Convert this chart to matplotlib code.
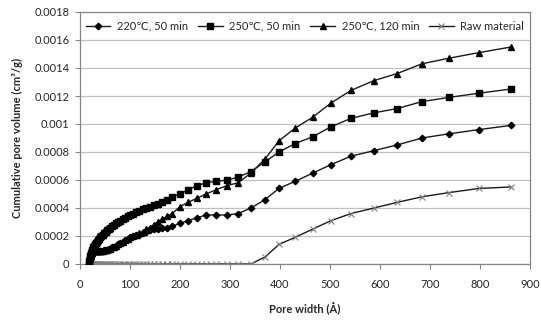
import matplotlib
matplotlib.use("Agg")
import matplotlib.pyplot as plt

plt.rcParams['font.family'] = ['Lato', 'DejaVu Sans']

pore_width = [17, 18, 19, 20, 21, 22, 23, 24, 25, 26,
              28, 30, 32, 34, 36, 38, 40, 42, 45, 48, 51, 54, 57, 60,
              64, 68, 72, 76, 80, 85, 90, 95, 100,
              106, 112, 118, 125, 132, 139, 147, 155, 164, 174,
              184, 200, 216, 234, 252, 272, 294, 316, 342,
              370, 398, 430, 466, 502, 542, 588, 634, 684, 738, 798, 862]

v220_50 = [0.0, 0.00002, 0.00004, 0.00005, 0.00006, 0.00007, 0.00008, 0.00008, 0.00009, 0.00009,
           0.00009, 0.00009, 0.00009, 0.00009, 0.00009, 0.00009, 0.00009, 0.00009, 0.00009, 0.0001, 0.0001, 0.0001, 0.00011, 0.00011,
           0.00012, 0.00012, 0.00013, 0.00014, 0.00015, 0.00016, 0.00017, 0.00018, 0.00019,
           0.0002, 0.00021, 0.00021, 0.00022, 0.00023, 0.00024, 0.00025, 0.00025, 0.00026, 0.00026,
           0.00027, 0.00029, 0.00031, 0.00033, 0.00035, 0.00035, 0.00035, 0.00036, 0.0004,
           0.00046, 0.00054, 0.00059, 0.00065, 0.00071, 0.00077, 0.00081, 0.00085, 0.0009, 0.00093, 0.00096, 0.00099]

v250_50 = [0.0, 0.00002, 0.00004, 0.00006, 0.00007, 0.00008, 0.00009, 0.0001, 0.00011, 0.00012,
           0.00013, 0.00014, 0.00015, 0.00016, 0.00017, 0.00018, 0.00019, 0.0002, 0.00021, 0.00022, 0.00023, 0.00024, 0.00025, 0.00026,
           0.00027, 0.00028, 0.00029, 0.0003, 0.00031, 0.00032, 0.00033, 0.00034, 0.00035,
           0.00036, 0.00037, 0.00038, 0.00039, 0.0004, 0.00041, 0.00042, 0.00043, 0.00044, 0.00046,
           0.00048, 0.0005, 0.00053, 0.00056, 0.00058, 0.00059, 0.0006, 0.00062, 0.00066,
           0.00073, 0.0008, 0.00086, 0.00091, 0.00098, 0.00104, 0.00108, 0.00111, 0.00116, 0.00119, 0.00122, 0.00125]

v250_120 = [0.0, 0.00002, 0.00004, 0.00005, 0.00006, 0.00007, 0.00008, 0.00008, 0.00009, 0.00009,
            0.00009, 0.00009, 0.00009, 0.00009, 0.00009, 0.00009, 0.00009, 0.00009, 0.00009, 0.0001, 0.0001, 0.0001, 0.00011, 0.00011,
            0.00012, 0.00012, 0.00013, 0.00014, 0.00015, 0.00016, 0.00017, 0.00018, 0.00019,
            0.0002, 0.00021, 0.00022, 0.00023, 0.00025, 0.00026, 0.00028, 0.0003, 0.00032, 0.00034,
            0.00036, 0.00041, 0.00044, 0.00047, 0.0005, 0.00053, 0.00056, 0.00058, 0.00065,
            0.00075, 0.00088, 0.00097, 0.00105, 0.00115, 0.00124, 0.00131, 0.00136, 0.00143, 0.00147, 0.00151, 0.00155]

v_raw = [0.0] * 0 + [0.0, 0.0, 0.0, 0.0, 0.0, 0.0, 0.0, 0.0, 0.0, 0.0,
         0.0, 0.0, 0.0, 0.0, 0.0, 0.0, 0.0, 0.0, 0.0, 0.0, 0.0, 0.0, 0.0, 0.0,
         0.0, 0.0, 0.0, 0.0, 0.0, 0.0, 0.0, 0.0, 0.0,
         0.0, 0.0, 0.0, 0.0, 0.0, 0.0, 0.0, 0.0, 0.0, 0.0,
         0.0, 0.0, 0.0, 0.0, 0.0, 0.0, 0.0, 0.0, 0.0,
         0.00005, 0.00014, 0.00019, 0.00025, 0.00031, 0.00036, 0.0004, 0.00044, 0.00048, 0.00051, 0.00054, 0.00055]

labels = ["220\u2103, 50 min", "250\u2103, 50 min", "250\u2103, 120 min", "Raw material"]

x_ticks = [0, 100, 200, 300, 400, 500, 600, 700, 800, 900]
y_ticks = [0, 0.0002, 0.0004, 0.0006, 0.0008, 0.001, 0.0012, 0.0014, 0.0016, 0.0018]
y_tick_labels = ["0", "0.0002", "0.0004", "0.0006", "0.0008", "0.001", "0.0012", "0.0014", "0.0016", "0.0018"]

fig = plt.figure(figsize=(5.41, 3.22), dpi=100)
ax = fig.add_axes([80/541, 1-264/322, 450/541, 252/322])

lc = '#1a1a1a'
ax.plot(pore_width, v220_50, color=lc, lw=1.0, marker='D', ms=3.3, mfc='black', mec='black', label=labels[0], zorder=3)
ax.plot(pore_width, v250_50, color=lc, lw=1.0, marker='s', ms=4.3, mfc='black', mec='black', label=labels[1], zorder=3)
ax.plot(pore_width, v250_120, color=lc, lw=1.0, marker='^', ms=4.6, mfc='black', mec='black', label=labels[2], zorder=3)
ax.plot(pore_width, v_raw, color=lc, lw=1.0, marker='x', ms=5, mec='#808080', mew=0.8, label=labels[3], zorder=2)

ax.set_xlim(0, 900)
ax.set_ylim(0, 0.0018)
ax.set_xticks(x_ticks)
ax.set_xticklabels([str(t) for t in x_ticks])
ax.set_yticks(y_ticks)
ax.set_yticklabels(y_tick_labels)

ax.yaxis.grid(True, color='#c0c0c0', lw=0.9)
ax.set_axisbelow(True)
for s in ax.spines.values():
    s.set_color('#868686')
    s.set_linewidth(0.9)

ax.tick_params(axis='both', direction='out', length=3.5, width=0.8, color='#868686',
               labelsize=8, labelcolor='#262626')
ax.tick_params(axis='x', pad=7)
ax.tick_params(axis='y', pad=4)

ax.set_xlabel("Pore width (\u00c5)", fontsize=8, fontweight='bold', color='#262626', labelpad=9)
ax.set_ylabel("Cumulative pore volume (cm\u00b3/g)", fontsize=8, fontweight='bold', color='#262626', labelpad=8)

leg = ax.legend(loc='upper center', bbox_to_anchor=(0.5, 1.0), ncol=4, frameon=False,
                fontsize=8, handlelength=2.2, handletextpad=0.6, columnspacing=0.9,
                borderaxespad=0.4)
for t in leg.get_texts():
    t.set_color('#262626')

fig.savefig("out.png", dpi=100)
